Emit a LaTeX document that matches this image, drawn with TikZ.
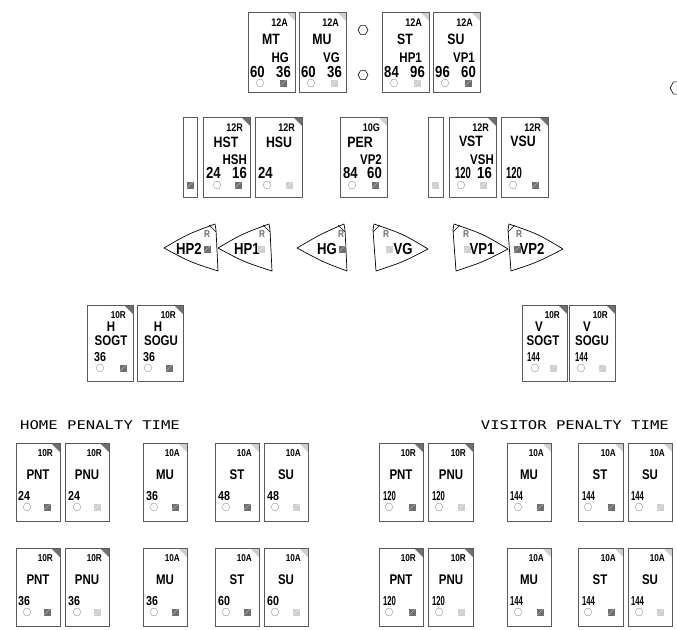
\documentclass[tikz,border=0pt]{standalone}
\usepackage{fontspec}
\usepackage{graphicx}
\usetikzlibrary{shapes.geometric}
\setmainfont{Liberation Sans}
\newfontfamily\bx[FakeStretch=0.82]{Liberation Sans}
\newfontfamily\ttlfont[FakeStretch=1.3]{DejaVu Sans Mono}
\definecolor{dk}{HTML}{707070}
\definecolor{lt}{HTML}{CFCFCF}
\definecolor{edge}{HTML}{5A5A5A}
\newcommand\nn[1]{\scalebox{0.72}[1]{#1}}
\tikzset{
  panel/.style={draw=edge, line width=0.9pt, inner sep=0pt, outer sep=0pt},
  codeA/.style={font=\bx\bfseries\fontsize{11}{11}\selectfont, inner sep=0pt, text height=8pt, text depth=0pt},
  codeB/.style={font=\bx\bfseries\fontsize{10}{10}\selectfont, inner sep=0pt, text height=7pt, text depth=0pt},
  tA/.style={font=\bx\bfseries\fontsize{15}{15}\selectfont, inner sep=0pt, text height=11pt, text depth=0pt},
  tB/.style={font=\bx\bfseries\fontsize{14}{14}\selectfont, inner sep=0pt, text height=10pt, text depth=0pt},
  tC/.style={font=\bx\bfseries\fontsize{14}{14}\selectfont, inner sep=0pt, text height=10pt, text depth=0pt},
  nA/.style={font=\bx\bfseries\fontsize{16}{16}\selectfont, inner sep=0pt, text height=11.5pt, text depth=0pt},
  nB/.style={font=\bx\bfseries\fontsize{13}{13}\selectfont, inner sep=0pt, text height=9.5pt, text depth=0pt},
  aT/.style={font=\bx\bfseries\fontsize{16}{16}\selectfont, inner sep=0pt, text height=11.5pt, text depth=0pt},
  rr/.style={font=\bx\bfseries\fontsize{10}{10}\selectfont, inner sep=0pt, text=dk, text height=7pt, text depth=0pt},
  hexa/.style={regular polygon, regular polygon sides=6, minimum size=8pt, inner sep=0pt, draw=gray!75, line width=0.45pt},
  bighex/.style={regular polygon, regular polygon sides=6, minimum size=10pt, inner sep=0pt, draw=black, line width=0.6pt},
  sq/.style={minimum size=7pt, inner sep=0pt, draw=none},
  arrw/.style={draw=black, fill=white, line width=0.7pt, line join=round},
  head/.style={font=\ttlfont\fontsize{12}{12}\selectfont, inner sep=0pt}
}
% box: name, left, top, width, height, corner colour, code text, code style
\newcommand\pbox[8]{%
  \fill[#6] (#2+#4-9,#3) -- (#2+#4,#3) -- (#2+#4,#3+9) -- cycle;
  \node[panel, minimum width=#4pt, minimum height=#5pt, anchor=north west] (#1) at (#2,#3) {};
  \node[#8, anchor=east] (#1-c) at (#2+#4-7,#3+#5/8) {#7};}
% hex + square: name, hex x, square x, y, colour
\newcommand\hs[5]{%
  \node[hexa] (#1-h) at (#2,#4) {};
  \node[sq, fill=#5] (#1-s) at (#3,#4) {};
  \draw[white, line width=0.35pt, opacity=0.55] (#1-s.south west) -- (#1-s.north east);}
\newcommand\sqonly[4]{%
  \node[sq, fill=#4] (#1-s) at (#2,#3) {};
  \draw[white, line width=0.35pt, opacity=0.55] (#1-s.south west) -- (#1-s.north east);}
% left arrow: tip x, right x
\newcommand\larr[2]{%
  \draw[arrw] (#1,248) .. controls (#1+24,234) .. (#2,224) -- (#2+1,230) -- (#2+3,271) .. controls (#1+26,262) .. (#1,248) -- cycle;
  \draw[line width=0.5pt] (#2-6,225) -- (#2+1,232);}
% right arrow: left x, tip x
\newcommand\rarr[2]{%
  \draw[arrw] (#1,224) .. controls (#2-25,234) .. (#2,249) .. controls (#2-25,262) .. (#1+2,271) -- (#1-1,230) -- (#1,224) -- cycle;
  \draw[line width=0.5pt] (#1-1,232) -- (#1+6,225);}
\begin{document}
\begin{tikzpicture}[x=1pt,y=-1pt]
\useasboundingbox (0,0) rectangle (677,629);

% ---------- top row ----------
\pbox{MT}{248}{12}{47}{80}{lt}{12A}{codeA}
\node[tA] (MT-t) at (271,39) {MT};
\node[tB,anchor=east] (MT-x) at (289,57) {HG};
\node[nA,anchor=west] (MT-l) at (250,72) {60};
\node[nA,anchor=east] (MT-r) at (291,72) {36};
\hs{MT}{260}{283}{83}{dk}

\pbox{MU}{299}{12}{47}{80}{lt}{12A}{codeA}
\node[tA] (MU-t) at (322,39) {MU};
\node[tB,anchor=east] (MU-x) at (340,57) {VG};
\node[nA,anchor=west] (MU-l) at (301,72) {60};
\node[nA,anchor=east] (MU-r) at (342,72) {36};
\hs{MU}{311}{334}{83}{lt}

\node[bighex] (hx1) at (363,30) {};
\node[bighex] (hx2) at (363,75) {};
\node[bighex, minimum size=14pt] (hx3) at (677,88) {};

\pbox{ST}{382}{12}{47}{80}{lt}{12A}{codeA}
\node[tA] (ST-t) at (405,39) {ST};
\node[tB,anchor=east] (ST-x) at (422,57) {HP1};
\node[nA,anchor=west] (ST-l) at (384,72) {84};
\node[nA,anchor=east] (ST-r) at (425,72) {96};
\hs{ST}{394}{417}{83}{lt}

\pbox{SU}{433}{12}{47}{80}{lt}{12A}{codeA}
\node[tA] (SU-t) at (456,39) {SU};
\node[tB,anchor=east] (SU-x) at (475,57) {VP1};
\node[nA,anchor=west] (SU-l) at (435,72) {96};
\node[nA,anchor=east] (SU-r) at (476,72) {60};
\hs{SU}{445}{468}{83}{dk}

% ---------- second row ----------
\node[panel, minimum width=14pt, minimum height=80pt, anchor=north west] (barL) at (183,117) {};
\sqonly{barL}{190}{185}{dk}
\node[panel, minimum width=15pt, minimum height=80pt, anchor=north west] (barR) at (428,117) {};
\sqonly{barR}{435.5}{185}{lt}

\pbox{HST}{203}{117}{47}{80}{dk}{12R}{codeA}
\node[tA] (HST-t) at (226,142) {HST};
\node[tB,anchor=east] (HST-x) at (247,159) {HSH};
\node[nA,anchor=west] (HST-l) at (206,173) {24};
\node[nA,anchor=east] (HST-r) at (247,173) {16};
\hs{HST}{217}{238}{185}{dk}

\pbox{HSU}{255}{117}{47}{80}{dk}{12R}{codeA}
\node[tA] (HSU-t) at (279,142) {HSU};
\node[nA,anchor=west] (HSU-l) at (258,173) {24};
\hs{HSU}{267}{289}{185}{lt}

\pbox{PER}{340}{117}{47}{80}{lt}{10G}{codeA}
\node[tA] (PER-t) at (360,142) {PER};
\node[tB,anchor=east] (PER-x) at (382,159) {VP2};
\node[nA,anchor=west] (PER-l) at (343,173) {84};
\node[nA,anchor=east] (PER-r) at (382,173) {60};
\hs{PER}{352}{375}{185}{dk}

\pbox{VST}{449}{117}{47}{80}{dk}{12R}{codeA}
\node[tA] (VST-t) at (471,141) {VST};
\node[tB,anchor=east] (VST-x) at (494,159) {VSH};
\node[nA,anchor=west] (VST-l) at (455,173) {\nn{120}};
\node[nA,anchor=east] (VST-r) at (492,173) {16};
\hs{VST}{461}{483}{185}{lt}

\pbox{VSU}{501}{117}{47}{80}{dk}{12R}{codeA}
\node[tA] (VSU-t) at (523,141) {VSU};
\node[nA,anchor=west] (VSU-l) at (506,173) {\nn{120}};
\hs{VSU}{513}{535}{185}{dk}

% ---------- arrows ----------
\larr{164}{215}
\node[aT] (HP2) at (189,249) {HP2};
\sqonly{HP2}{207}{249}{dk}
\node[rr] (HP2-r) at (207,234) {R};

\larr{218}{269}
\node[aT] (HP1) at (247,249) {HP1};
\sqonly{HP1}{261}{249}{lt}
\node[rr] (HP1-r) at (262,234) {R};

\larr{297}{344}
\node[aT] (HG) at (327,249) {HG};
\sqonly{HG}{342}{249}{dk}
\node[rr] (HG-r) at (341,234) {R};

\rarr{374}{428}
\node[aT] (VG) at (403,249) {VG};
\sqonly{VG}{389}{249}{lt}
\node[rr] (VG-r) at (386,234) {R};

\rarr{454}{508}
\node[aT] (VP1) at (482,249) {VP1};
\sqonly{VP1}{467}{249}{lt}
\node[rr] (VP1-r) at (466,234) {R};

\rarr{509}{563}
\node[aT] (VP2) at (532,249) {VP2};
\sqonly{VP2}{517}{249}{dk}
\node[rr] (VP2-r) at (519,234) {R};

% ---------- SOG boxes ----------
\pbox{HSOGT}{87}{305}{46}{76}{dk}{10R}{codeB}
\node[tC] (HSOGT-a) at (111,326) {H};
\node[tC] (HSOGT-b) at (111,340) {SOGT};
\node[nB,anchor=west] (HSOGT-n) at (94,357) {36};
\hs{HSOGT}{100}{123}{368}{dk}

\pbox{HSOGU}{137}{305}{46}{76}{dk}{10R}{codeB}
\node[tC] (HSOGU-a) at (158,326) {H};
\node[tC] (HSOGU-b) at (161,340) {SOGU};
\node[nB,anchor=west] (HSOGU-n) at (143,357) {36};
\hs{HSOGU}{148}{169}{368}{dk}

\pbox{VSOGT}{522}{305}{45}{76}{dk}{10R}{codeB}
\node[tC] (VSOGT-a) at (539,326) {V};
\node[tC] (VSOGT-b) at (543,340) {SOGT};
\node[nB,anchor=west] (VSOGT-n) at (527,357) {\nn{144}};
\hs{VSOGT}{535}{553}{368}{lt}

\pbox{VSOGU}{569}{305}{46}{76}{dk}{10R}{codeB}
\node[tC] (VSOGU-a) at (587,326) {V};
\node[tC] (VSOGU-b) at (592,340) {SOGU};
\node[nB,anchor=west] (VSOGU-n) at (575,357) {\nn{144}};
\hs{VSOGU}{581}{602}{368}{lt}

% ---------- penalty titles ----------
\node[head,anchor=west] (homeT) at (20,425) {HOME PENALTY TIME};
\node[head,anchor=east] (visT) at (669,425) {VISITOR PENALTY TIME};

% ---------- home penalty rows ----------
\foreach \r/\top/\na/\nb/\nc/\nd in {a/443/24/36/48/48, b/548/36/36/60/60}{
  \pbox{hPNT\r}{16}{\top}{44}{78}{dk}{10R}{codeB}
  \node[tB] (hPNT\r-t) at (38,\top+31) {PNT};
  \node[nB,anchor=west] (hPNT\r-n) at (18,\top+53) {\na};
  \hs{hPNT\r}{27}{47}{\top+64}{dk}

  \pbox{hPNU\r}{65}{\top}{44}{78}{dk}{10R}{codeB}
  \node[tB] (hPNU\r-t) at (87,\top+31) {PNU};
  \node[nB,anchor=west] (hPNU\r-n) at (68,\top+53) {\na};
  \hs{hPNU\r}{77}{97}{\top+64}{lt}

  \pbox{hMU\r}{143}{\top}{44}{78}{lt}{10A}{codeB}
  \node[tB] (hMU\r-t) at (165,\top+31) {MU};
  \node[nB,anchor=west] (hMU\r-n) at (146,\top+53) {\nb};
  \hs{hMU\r}{154}{175}{\top+64}{dk}

  \pbox{hST\r}{215}{\top}{44}{78}{lt}{10A}{codeB}
  \node[tB] (hST\r-t) at (237,\top+31) {ST};
  \node[nB,anchor=west] (hST\r-n) at (218,\top+53) {\nc};
  \hs{hST\r}{226}{247}{\top+64}{dk}

  \pbox{hSU\r}{264}{\top}{44}{78}{lt}{10A}{codeB}
  \node[tB] (hSU\r-t) at (286,\top+31) {SU};
  \node[nB,anchor=west] (hSU\r-n) at (267,\top+53) {\nd};
  \hs{hSU\r}{275}{296}{\top+64}{lt}
}

% ---------- visitor penalty rows ----------
\foreach \r/\top in {a/443, b/548}{
  \pbox{vPNT\r}{379}{\top}{44}{78}{dk}{10R}{codeB}
  \node[tB] (vPNT\r-t) at (401,\top+31) {PNT};
  \node[nB,anchor=west] (vPNT\r-n) at (383,\top+53) {\nn{120}};
  \hs{vPNT\r}{389}{412}{\top+64}{dk}

  \pbox{vPNU\r}{428}{\top}{45}{78}{dk}{10R}{codeB}
  \node[tB] (vPNU\r-t) at (451,\top+31) {PNU};
  \node[nB,anchor=west] (vPNU\r-n) at (432,\top+53) {\nn{120}};
  \hs{vPNU\r}{439}{461}{\top+64}{lt}

  \pbox{vMU\r}{507}{\top}{44}{78}{lt}{10A}{codeB}
  \node[tB] (vMU\r-t) at (529,\top+31) {MU};
  \node[nB,anchor=west] (vMU\r-n) at (510,\top+53) {\nn{144}};
  \hs{vMU\r}{518}{540}{\top+64}{dk}

  \pbox{vST\r}{578}{\top}{45}{78}{lt}{10A}{codeB}
  \node[tB] (vST\r-t) at (600,\top+31) {ST};
  \node[nB,anchor=west] (vST\r-n) at (582,\top+53) {\nn{144}};
  \hs{vST\r}{588}{611}{\top+64}{dk}

  \pbox{vSU\r}{628}{\top}{44}{78}{lt}{10A}{codeB}
  \node[tB] (vSU\r-t) at (650,\top+31) {SU};
  \node[nB,anchor=west] (vSU\r-n) at (631,\top+53) {\nn{144}};
  \hs{vSU\r}{639}{660}{\top+64}{lt}
}
\end{tikzpicture}
\end{document}
